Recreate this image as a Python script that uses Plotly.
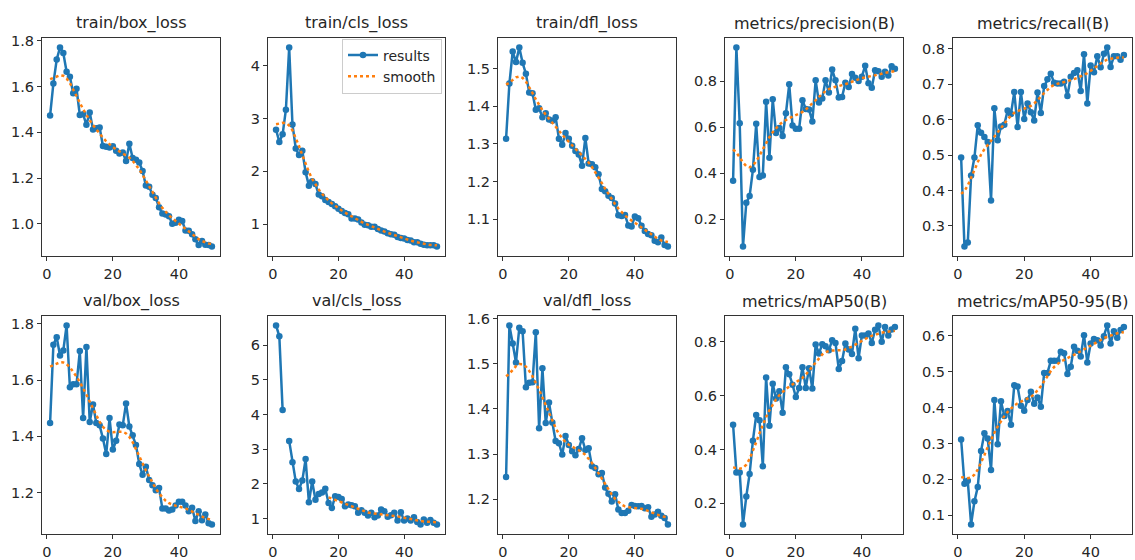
import numpy as np
import plotly.graph_objects as go

epochs = list(range(1, 51))

titles = ["train/box_loss", "train/cls_loss", "train/dfl_loss", "metrics/precision(B)", "metrics/recall(B)",
          "val/box_loss", "val/cls_loss", "val/dfl_loss", "metrics/mAP50(B)", "metrics/mAP50-95(B)"]

train_box_loss = [1.473, 1.614, 1.718, 1.771, 1.747, 1.665, 1.643, 1.571, 1.591, 1.476,
                  1.479, 1.433, 1.487, 1.412, 1.418, 1.421, 1.340, 1.337, 1.334, 1.339,
                  1.319, 1.307, 1.312, 1.274, 1.350, 1.288, 1.280, 1.268, 1.231, 1.167,
                  1.162, 1.127, 1.113, 1.072, 1.045, 1.041, 1.033, 1.000, 1.005, 1.018,
                  1.012, 0.971, 0.969, 0.954, 0.932, 0.907, 0.925, 0.908, 0.907, 0.901]
train_cls_loss = [2.787, 2.556, 2.700, 3.166, 4.342, 2.886, 2.432, 2.307, 2.390, 1.984,
                  1.729, 1.810, 1.760, 1.560, 1.530, 1.460, 1.420, 1.380, 1.340, 1.290,
                  1.250, 1.210, 1.190, 1.110, 1.110, 1.090, 1.030, 0.990, 0.980, 0.950,
                  0.950, 0.910, 0.880, 0.860, 0.830, 0.810, 0.800, 0.760, 0.740, 0.730,
                  0.700, 0.690, 0.660, 0.660, 0.630, 0.610, 0.600, 0.600, 0.600, 0.580]
train_dfl_loss = [1.314, 1.461, 1.546, 1.518, 1.557, 1.516, 1.487, 1.437, 1.435, 1.391,
                  1.395, 1.371, 1.382, 1.365, 1.362, 1.371, 1.314, 1.298, 1.329, 1.314,
                  1.295, 1.281, 1.272, 1.242, 1.316, 1.248, 1.246, 1.238, 1.219, 1.180,
                  1.174, 1.162, 1.156, 1.141, 1.110, 1.108, 1.111, 1.083, 1.080, 1.107,
                  1.102, 1.082, 1.068, 1.060, 1.057, 1.042, 1.038, 1.051, 1.031, 1.027]
precision = [0.367, 0.946, 0.617, 0.081, 0.271, 0.300, 0.414, 0.614, 0.383, 0.389,
             0.710, 0.467, 0.721, 0.574, 0.596, 0.561, 0.660, 0.786, 0.607, 0.593,
             0.593, 0.717, 0.679, 0.676, 0.624, 0.803, 0.707, 0.724, 0.804, 0.750,
             0.850, 0.803, 0.729, 0.731, 0.793, 0.774, 0.831, 0.814, 0.800, 0.819,
             0.867, 0.790, 0.771, 0.847, 0.843, 0.819, 0.840, 0.824, 0.864, 0.853]
recall = [0.493, 0.242, 0.253, 0.442, 0.493, 0.584, 0.563, 0.551, 0.537, 0.372,
          0.632, 0.542, 0.581, 0.586, 0.626, 0.616, 0.678, 0.579, 0.678, 0.602,
          0.646, 0.621, 0.598, 0.677, 0.619, 0.695, 0.714, 0.730, 0.704, 0.702,
          0.702, 0.707, 0.667, 0.721, 0.732, 0.740, 0.681, 0.785, 0.646, 0.753,
          0.734, 0.779, 0.748, 0.786, 0.804, 0.749, 0.779, 0.779, 0.769, 0.783]
val_box_loss = [1.447, 1.725, 1.752, 1.687, 1.705, 1.794, 1.574, 1.585, 1.585, 1.703,
                1.465, 1.717, 1.451, 1.513, 1.447, 1.439, 1.392, 1.337, 1.465, 1.353,
                1.384, 1.442, 1.439, 1.517, 1.435, 1.404, 1.369, 1.302, 1.263, 1.292,
                1.245, 1.226, 1.208, 1.216, 1.143, 1.143, 1.136, 1.140, 1.154, 1.167,
                1.167, 1.154, 1.134, 1.146, 1.099, 1.134, 1.102, 1.122, 1.091, 1.087]
val_cls_loss = [6.571, 6.257, 4.133, None, 3.238, 2.619, 2.067, 1.848, 2.095, 2.714,
                1.467, 2.067, 1.543, 1.705, 1.752, 1.857, 1.448, 1.305, 1.638, 1.619,
                1.562, 1.352, 1.400, 1.381, 1.352, 1.162, 1.238, 1.162, 1.086, 1.162,
                1.038, 1.086, 1.257, 1.210, 1.048, 1.095, 1.162, 0.943, 1.181, 0.943,
                1.000, 0.943, 1.038, 0.895, 0.829, 0.971, 0.876, 0.952, 0.876, 0.829]
val_dfl_loss = [1.249, 1.585, 1.545, 1.503, 1.580, 1.572, 1.448, 1.458, 1.459, 1.570,
                1.357, 1.490, 1.369, 1.414, 1.370, 1.329, 1.324, 1.299, 1.340, 1.320,
                1.306, 1.297, 1.311, 1.335, 1.309, 1.313, 1.273, 1.269, 1.255, 1.258,
                1.226, 1.212, 1.195, 1.211, 1.177, 1.169, 1.169, 1.174, 1.187, 1.185,
                1.184, 1.185, 1.180, 1.182, 1.161, 1.166, 1.172, 1.163, 1.158, 1.144]
map50 = [0.492, 0.315, 0.315, 0.122, 0.226, 0.309, 0.433, 0.528, 0.509, 0.338,
         0.668, 0.488, 0.644, 0.590, 0.617, 0.537, 0.706, 0.680, 0.641, 0.595,
         0.629, 0.706, 0.629, 0.702, 0.627, 0.790, 0.757, 0.791, 0.784, 0.769,
         0.806, 0.796, 0.699, 0.729, 0.794, 0.772, 0.755, 0.849, 0.739, 0.824,
         0.824, 0.831, 0.796, 0.845, 0.861, 0.800, 0.855, 0.824, 0.846, 0.855]
map50_95 = [0.311, 0.188, 0.196, 0.075, 0.139, 0.179, 0.279, 0.328, 0.314, 0.226,
            0.421, 0.298, 0.417, 0.376, 0.390, 0.352, 0.462, 0.458, 0.405, 0.391,
            0.421, 0.444, 0.410, 0.428, 0.402, 0.496, 0.496, 0.530, 0.530, 0.530,
            0.555, 0.551, 0.493, 0.513, 0.569, 0.558, 0.542, 0.601, 0.525, 0.578,
            0.590, 0.587, 0.572, 0.598, 0.628, 0.578, 0.612, 0.594, 0.615, 0.624]

series = [train_box_loss, train_cls_loss, train_dfl_loss, precision, recall,
          val_box_loss, val_cls_loss, val_dfl_loss, map50, map50_95]

x_ticks = [0, 20, 40]
y_ticks = [
    [1.0, 1.2, 1.4, 1.6, 1.8],
    [1, 2, 3, 4],
    [1.1, 1.2, 1.3, 1.4, 1.5],
    [0.2, 0.4, 0.6, 0.8],
    [0.3, 0.4, 0.5, 0.6, 0.7, 0.8],
    [1.2, 1.4, 1.6, 1.8],
    [1, 2, 3, 4, 5, 6],
    [1.2, 1.3, 1.4, 1.5, 1.6],
    [0.2, 0.4, 0.6, 0.8],
    [0.1, 0.2, 0.3, 0.4, 0.5, 0.6],
]
y_fmt = [".1f", "d", ".1f", ".1f", ".1f", ".1f", "d", ".1f", ".1f", ".1f"]


def gaussian_smooth(vals, sigma=3.0, truncate=4.0):
    y = np.array([np.nan if v is None else v for v in vals], dtype=float)
    r = int(truncate * sigma + 0.5)
    k = np.exp(-0.5 * (np.arange(-r, r + 1) / sigma) ** 2)
    k /= k.sum()
    padded = np.concatenate([y[:r][::-1], y, y[-r:][::-1]])
    out = np.convolve(padded, k, mode="valid")
    return [None if np.isnan(v) else float(v) for v in out]


W, H = 1135, 560
col_px = [(42, 220), (268, 445), (498, 676), (725, 903), (953, 1132)]
row_px = [(33, 255), (315, 537)]

BLUE = "#1f77b4"
ORANGE = "#ff7f0e"
FONT = "DejaVu Sans"

fig = go.Figure()
annotations = []
layout_axes = {}

for i, (title, vals) in enumerate(zip(titles, series)):
    r, c = divmod(i, 5)
    n = i + 1
    xa = "x" if n == 1 else f"x{n}"
    ya = "y" if n == 1 else f"y{n}"
    smooth = gaussian_smooth(vals)
    fig.add_trace(go.Scatter(
        x=epochs, y=vals, mode="lines+markers", name="results",
        line=dict(color=BLUE, width=2.5), marker=dict(color=BLUE, size=6.5),
        xaxis=xa, yaxis=ya, showlegend=(i == 1), legendrank=1))
    fig.add_trace(go.Scatter(
        x=epochs, y=smooth, mode="lines", name="smooth",
        line=dict(color=ORANGE, width=2.5, dash="dot"),
        xaxis=xa, yaxis=ya, showlegend=(i == 1), legendrank=2))

    valid = [v for v in vals if v is not None]
    lo, hi = min(valid), max(valid)
    pad = 0.05 * (hi - lo)
    x0, x1 = col_px[c]
    yt, yb = row_px[r]
    axis_common = dict(showline=True, mirror=True, linecolor="#333333", linewidth=1,
                       ticks="outside", ticklen=4, tickwidth=1, tickcolor="#333333",
                       showgrid=False, zeroline=False,
                       tickfont=dict(family=FONT, size=14.5, color="#262626"))
    layout_axes["xaxis" if n == 1 else f"xaxis{n}"] = dict(
        domain=[x0 / W, x1 / W], anchor=ya, range=[1 - 2.45, 50 + 2.45],
        tickvals=x_ticks, **axis_common)
    layout_axes["yaxis" if n == 1 else f"yaxis{n}"] = dict(
        domain=[1 - yb / H, 1 - yt / H], anchor=xa, range=[lo - pad, hi + pad],
        tickvals=y_ticks[i], tickformat=y_fmt[i], **axis_common)
    annotations.append(dict(
        text=title, xref="paper", yref="paper", x=(x0 + x1) / 2 / W, y=1 - yt / H,
        xanchor="center", yanchor="bottom", yshift=3, showarrow=False,
        font=dict(family=FONT, size=16, color="#262626")))

fig.update_layout(
    width=W, height=H, margin=dict(l=0, r=0, t=0, b=0),
    plot_bgcolor="white", paper_bgcolor="white",
    annotations=annotations,
    legend=dict(x=442 / W, y=1 - 34 / H, xanchor="right", yanchor="top",
                bgcolor="rgba(255,255,255,0.8)", bordercolor="#cccccc", borderwidth=1,
                font=dict(family=FONT, size=14, color="#262626"), itemwidth=30,
                tracegroupgap=0),
    **layout_axes,
)

fig.write_html("out.html", config={"displayModeBar": False},
               post_script="document.body.style.margin='0';document.body.style.overflow='hidden';")
